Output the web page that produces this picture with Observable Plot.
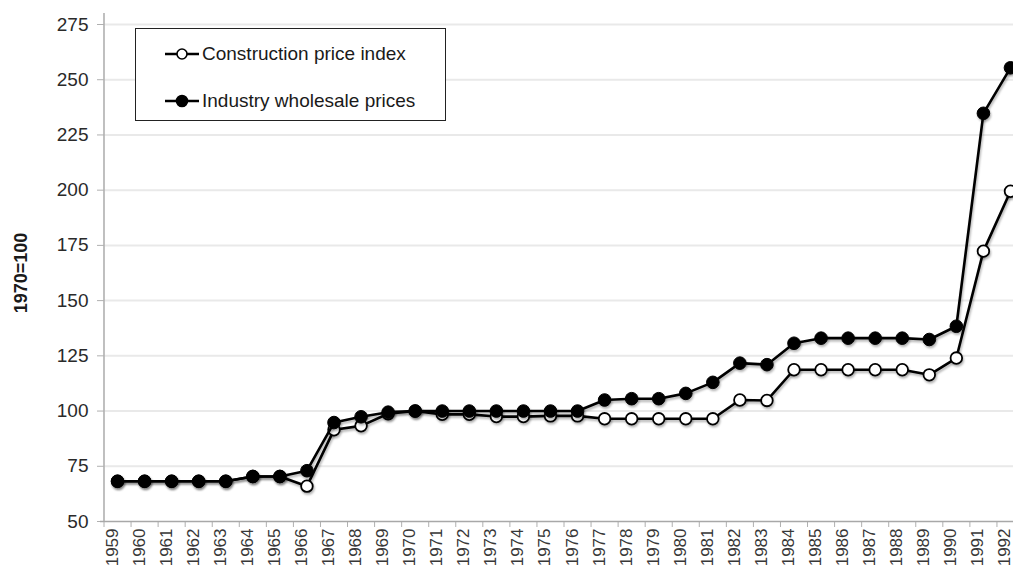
<!DOCTYPE html>
<html>
<head>
<meta charset="utf-8">
<script src="https://cdn.jsdelivr.net/npm/d3@7"></script>
<script src="https://cdn.jsdelivr.net/npm/@observablehq/plot@0.6"></script>
<style>
  html, body { margin: 0; padding: 0; background: #fff; overflow: hidden; }
  #wrap { position: relative; width: 1013px; height: 571px; overflow: hidden; font-family: "Liberation Sans", Arial, Helvetica, sans-serif; }
  #wrap svg g[aria-label^="y-axis"] text { fill: #2a2a2a; }
  #wrap svg g[aria-label^="y-axis"] line, #wrap svg g[aria-label^="y-axis"] path { stroke: #b0b0b0; }
  #wrap svg g[aria-label^="x-axis"] line, #wrap svg g[aria-label^="x-axis"] path { stroke: #b0b0b0; }
  #wrap svg g[aria-label="line"], #wrap svg g[aria-label="dot"] { filter: drop-shadow(1.5px 2px 1.2px rgba(0,0,0,0.3)); }
  #legend { position: absolute; left: 135px; top: 28px; width: 309px; height: 91px; border: 1.5px solid #222; background: #fff; }
  .row { position: absolute; left: 28px; height: 24px; display: flex; align-items: center; font-size: 19px; color: #1a1a1a; white-space: nowrap; }
  .row svg { display: block; margin-right: 2px; }
</style>
</head>
<body>
<div id="wrap"></div>
<script>
const years = [1959,1960,1961,1962,1963,1964,1965,1966,1967,1968,1969,1970,1971,1972,1973,1974,1975,1976,1977,1978,1979,1980,1981,1982,1983,1984,1985,1986,1987,1988,1989,1990,1991,1992];
const construction = [68.2,68.2,68.2,68.2,68.2,70.4,70.4,66,91.5,93.3,98.8,100,98.5,98.5,97.5,97.5,97.8,97.8,96.5,96.5,96.5,96.5,96.5,105,104.8,118.7,118.7,118.7,118.7,118.7,116.4,124,172.4,199.5];
const industry = [68.2,68.2,68.2,68.2,68.2,70.4,70.4,73,94.8,97.4,99.5,100,100,100,100,100,100,100,105,105.6,105.6,108,113,121.7,121,130.7,133,133,133,133,132.4,138.4,234.8,255.4];
const seriesNames = ["Construction price index", "Industry wholesale prices"];
const yTicks = [50,75,100,125,150,175,200,225,250,275];
const yLabel = "1970=100";

const xBounds = years.map(y => y - 0.5).concat([years[years.length - 1] + 0.5]);
const consData = years.map((y, i) => ({year: y, value: construction[i]}));
const indData = years.map((y, i) => ({year: y, value: industry[i]}));

const chart = Plot.plot({
  width: 1013,
  height: 571,
  marginTop: 24,
  marginBottom: 50,
  marginLeft: 104,
  marginRight: 0,
  style: {fontFamily: '"Liberation Sans", Arial, Helvetica, sans-serif', fontSize: "19px", background: "#fff", color: "#2a2a2a"},
  x: {type: "linear", domain: [xBounds[0], xBounds[xBounds.length - 1]], range: [103.5, 1023.5], ticks: xBounds, tickFormat: () => "", tickSize: 6, label: null},
  y: {domain: [yTicks[0], yTicks[yTicks.length - 1]], ticks: yTicks, tickSize: 7, tickPadding: 9, label: null},
  marks: [
    Plot.ruleY(yTicks.slice(1), {stroke: "#e9e9e9", strokeWidth: 2}),
    Plot.ruleX([xBounds[0]], {stroke: "#b0b0b0", strokeWidth: 1.6, insetTop: -11}),
    Plot.ruleY([yTicks[0]], {stroke: "#a8a8a8", strokeWidth: 1.6, insetLeft: -4}),
    Plot.text(years, {x: d => d, frameAnchor: "bottom", rotate: -90, textAnchor: "end", dy: 7, text: d => String(d), fontSize: 17, fill: "#383838"}),
    Plot.text([yLabel], {frameAnchor: "left", textAnchor: "middle", dx: -83, rotate: -90, text: d => d, fontWeight: "bold", fontSize: 18, fill: "#1a1a1a"}),
    Plot.line(consData, {x: "year", y: "value", stroke: "#000", strokeWidth: 2.6}),
    Plot.dot(consData, {x: "year", y: "value", r: 5.8, fill: "#fff", stroke: "#000", strokeWidth: 1.8}),
    Plot.line(indData, {x: "year", y: "value", stroke: "#000", strokeWidth: 2.6}),
    Plot.dot(indData, {x: "year", y: "value", r: 6.3, fill: "#000", stroke: "#000", strokeWidth: 1})
  ]
});

const wrap = document.getElementById("wrap");
wrap.appendChild(chart);

// legend (inside plot area, as in the reference)
const legend = document.createElement("div");
legend.id = "legend";
const rowsTop = [13, 60];
seriesNames.forEach((name, i) => {
  const row = document.createElement("div");
  row.className = "row";
  row.style.top = rowsTop[i] + "px";
  const filled = i === 1;
  row.innerHTML = `<svg width="36" height="24"><line x1="1" x2="35" y1="12" y2="12" stroke="#000" stroke-width="2.6"/><circle cx="18" cy="12" r="${filled ? 5.5 : 5}" fill="${filled ? "#000" : "#fff"}" stroke="#000" stroke-width="1.6"/></svg><span>${name}</span>`;
  legend.appendChild(row);
});
wrap.appendChild(legend);
</script>
</body>
</html>
